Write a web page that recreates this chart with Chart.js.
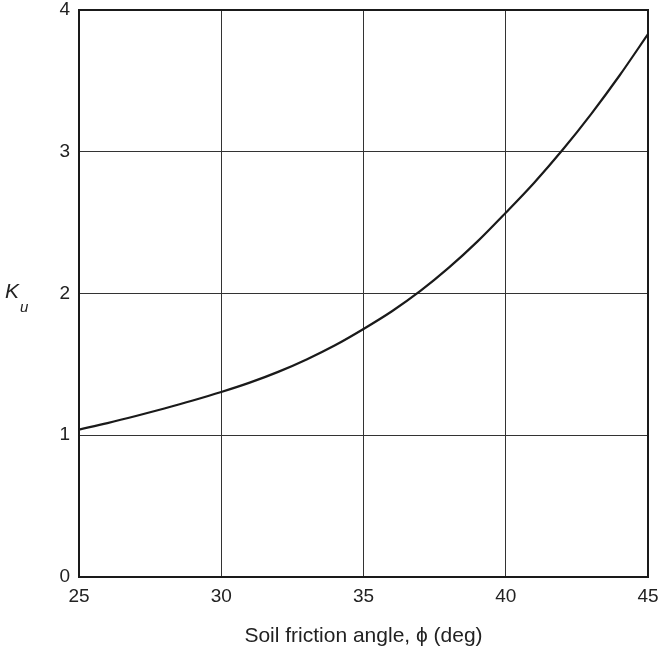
<!DOCTYPE html>
<html lang="en">
<head>
    <meta charset="UTF-8">
    <title>Ku vs soil friction angle</title>
    <script src="https://cdn.jsdelivr.net/npm/chart.js@4"></script>
    <style>
        body { margin: 0; background: #fff; }
        #wrap { width: 660px; height: 653px; }
    </style>
</head>
<body>
    <div id="wrap"><canvas id="myChart" width="660" height="653"></canvas></div>
<script>
    // values
    let angles = [25, 26, 27, 28, 29, 30, 31, 32, 33, 34, 35, 36, 37, 38, 39, 40, 41, 42, 43, 44, 45]
    let ku = [1.04, 1.086, 1.136, 1.189, 1.245, 1.305, 1.371, 1.447, 1.535, 1.635, 1.75, 1.875, 2.018, 2.182, 2.366, 2.57, 2.782, 3.014, 3.266, 3.538, 3.83]
    let xTicks = [25, 30, 35, 40, 45]
    let yTicks = [0, 1, 2, 3, 4]

    let points = angles.map((a, i) => ({ x: a, y: ku[i] }))
    let font = '"Liberation Sans", Arial, sans-serif'

    // frame + the unrotated K_u label
    let extras = {
        id: 'extras',
        afterDraw(chart) {
            let c = chart.ctx
            let a = chart.chartArea
            c.save()
            c.strokeStyle = '#1a1a1a'
            c.lineWidth = 2
            c.strokeRect(a.left, a.top, a.right - a.left, a.bottom - a.top)

            c.fillStyle = '#222'
            c.textBaseline = 'alphabetic'
            c.textAlign = 'left'
            c.font = 'italic 21px ' + font
            c.fillText('K', 5, 298)
            c.font = 'italic 15px ' + font
            c.fillText('u', 20, 312)
            c.restore()
        }
    }

    let ctx = document.getElementById('myChart').getContext('2d')
    let chart = new Chart(ctx, {
        type: 'line',
        data: {
            datasets: [{
                label: 'Ku',
                data: points,
                borderColor: '#1a1a1a',
                borderWidth: 2.2,
                pointRadius: 0,
                fill: false,
                cubicInterpolationMode: 'monotone'
            }]
        },
        options: {
            responsive: false,
            animation: false,
            layout: { padding: { top: 10, right: 12, left: 0, bottom: 0 } },
            plugins: {
                legend: { display: false },
                tooltip: { enabled: false }
            },
            scales: {
                x: {
                    type: 'linear',
                    min: 25,
                    max: 45,
                    afterBuildTicks: s => { s.ticks = xTicks.map(v => ({ value: v })) },
                    afterFit: s => { s.height = 76; s.paddingLeft = 0; s.paddingRight = 0 },
                    grid: { color: '#333', lineWidth: 1, drawTicks: false },
                    border: { display: false },
                    ticks: {
                        padding: 8,
                        color: '#222',
                        font: { family: font, size: 19 },
                        maxRotation: 0
                    },
                    title: {
                        display: true,
                        text: 'Soil friction angle, \u03d5 (deg)',
                        color: '#222',
                        padding: { top: 12, bottom: 4 },
                        font: { family: font, size: 21 }
                    }
                },
                y: {
                    min: 0,
                    max: 4,
                    afterBuildTicks: s => { s.ticks = yTicks.map(v => ({ value: v })) },
                    afterFit: s => { s.width = 79; s.paddingTop = 0; s.paddingBottom = 0 },
                    grid: { color: '#333', lineWidth: 1, drawTicks: false },
                    border: { display: false },
                    ticks: {
                        padding: 9,
                        color: '#222',
                        font: { family: font, size: 19 }
                    }
                }
            }
        },
        plugins: [extras]
    })
</script>
</body>
</html>
